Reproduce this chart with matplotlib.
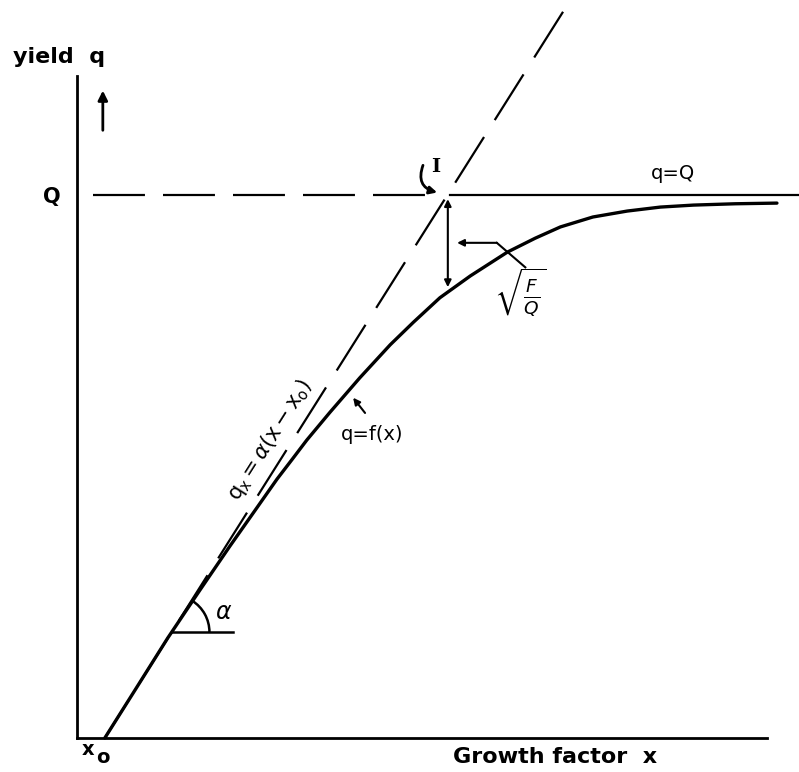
import matplotlib
matplotlib.use("Agg")
import matplotlib.pyplot as plt
from matplotlib.patches import Arc, FancyArrowPatch

plt.rcParams['font.family'] = ['DejaVu Sans']
plt.rcParams['mathtext.fontset'] = 'dejavusans'
plt.rcParams['lines.scale_dashes'] = False

# ---- data (arbitrary units, same scale on both axes) ----
x0 = 0.42            # origin of growth
Q = 8.20             # maximum yield
curve_x = [0.42, 0.88, 1.37, 1.86, 2.31, 2.69, 3.02, 3.25, 3.47, 3.82, 4.27, 4.73,
           5.08, 5.48, 5.94, 6.50, 6.92, 7.30, 7.79, 8.31, 8.81, 9.31, 9.94, 10.57]
curve_q = [0.00, 0.73, 1.51, 2.24, 2.90, 3.44, 3.91, 4.21, 4.50, 4.92, 5.44, 5.94,
           6.28, 6.65, 6.98, 7.34, 7.55, 7.72, 7.87, 7.96, 8.02, 8.05, 8.07, 8.08]
tangent_x = [7.34, x0]
tangent_q = [10.97, 0.0]
q_dash_x = [0.24, 5.27]
q_solid_x = [5.63, 10.90]
xlim = (0, 10.42)
ylim = (0, 10.0)

fig = plt.figure(figsize=(7.99, 7.72), dpi=100)
ax = fig.add_axes([77/799, 34/772, 690/799, 662/772])
ax.set_xlim(*xlim)
ax.set_ylim(*ylim)
for s in ['top', 'right']:
    ax.spines[s].set_visible(False)
for s in ['left', 'bottom']:
    ax.spines[s].set_linewidth(2.0)
ax.set_xticks([])
ax.set_yticks([])
ax.patch.set_alpha(0)

# curve q = f(x)
ax.plot(curve_x, curve_q, color='black', lw=2.4, solid_capstyle='round',
        solid_joinstyle='round', clip_on=False)
# tangent q = a(x - x0)
ax.plot(tangent_x, tangent_q, color='black', lw=1.6,
        linestyle=(0, (38.9, 14.4)), clip_on=False)
# q = Q line
ax.plot(q_dash_x, [Q, Q], color='black', lw=1.6,
        linestyle=(0, (37.4, 13.0)), clip_on=False)
ax.plot(q_solid_x, [Q, Q], color='black', lw=1.6, clip_on=False)

# texts
ax.text(-0.97, 10.20, 'yield  q', fontsize=16, fontweight='bold',
        ha='left', va='baseline')
ax.text(-0.38, 8.17, 'Q', fontsize=15, fontweight='bold', ha='center', va='center')
ax.text(0.17, -0.18, 'x', fontsize=14, fontweight='bold', ha='center', va='center')
ax.text(0.39, -0.29, 'o', fontsize=14, fontweight='bold', ha='center', va='center')
ax.text(5.68, -0.29, 'Growth factor  x', fontsize=16, fontweight='bold',
        ha='left', va='center')
ax.text(9.00, 8.53, 'q=Q', fontsize=14, ha='center', va='center')
ax.text(4.46, 4.58, 'q=f(x)', fontsize=14, ha='center', va='center')
ax.text(6.69, 6.72, r'$\sqrt{\frac{F}{Q}}$', fontsize=19, ha='center', va='center')
ax.text(5.41, 8.63, 'I', fontsize=14, family='DejaVu Serif', fontweight='bold',
        ha='center', va='center')
ax.text(2.21, 1.90, r'$\alpha$', fontsize=17, ha='center', va='center')
ax.text(2.92, 4.50, r'$\mathrm{q_x=}\alpha\mathrm{(x-x_o)}$', fontsize=15,
        rotation=57.7, rotation_mode='anchor', ha='center', va='center')

# up arrow near y label
ax.annotate('', xy=(0.39, 9.78), xytext=(0.39, 9.18),
            arrowprops=dict(arrowstyle='-|>', lw=2, color='black',
                            mutation_scale=14, shrinkA=0, shrinkB=0),
            annotation_clip=False)
# arrow to the curve q=f(x)
ax.annotate('', xy=(4.17, 5.14), xytext=(4.35, 4.91),
            arrowprops=dict(arrowstyle='-|>', lw=1.5, color='black',
                            mutation_scale=10, shrinkA=0, shrinkB=0))
# vertical double arrow between Q and the curve
ax.annotate('', xy=(5.60, 8.14), xytext=(5.60, 6.81),
            arrowprops=dict(arrowstyle='<|-|>', lw=1.5, color='black',
                            mutation_scale=10, shrinkA=0, shrinkB=0))
# bent leader from sqrt label
ax.plot([6.77, 6.34], [7.11, 7.48], color='black', lw=1.5)
ax.annotate('', xy=(5.74, 7.48), xytext=(6.34, 7.48),
            arrowprops=dict(arrowstyle='-|>', lw=1.5, color='black',
                            mutation_scale=10, shrinkA=0, shrinkB=0))
# hook arrow at intersection I
hook = FancyArrowPatch((5.24, 8.69), (5.48, 8.23),
                       connectionstyle='arc3,rad=0.6', arrowstyle='-|>',
                       mutation_scale=11, lw=2, color='black')
ax.add_patch(hook)

# angle alpha marker
ax.plot([1.44, 2.36], [1.60, 1.60], color='black', lw=1.8)
ax.add_patch(Arc((1.44, 1.60), 1.12, 1.12, theta1=0, theta2=57.7,
                 color='black', lw=1.8))

fig.savefig('out.png', dpi=100)
